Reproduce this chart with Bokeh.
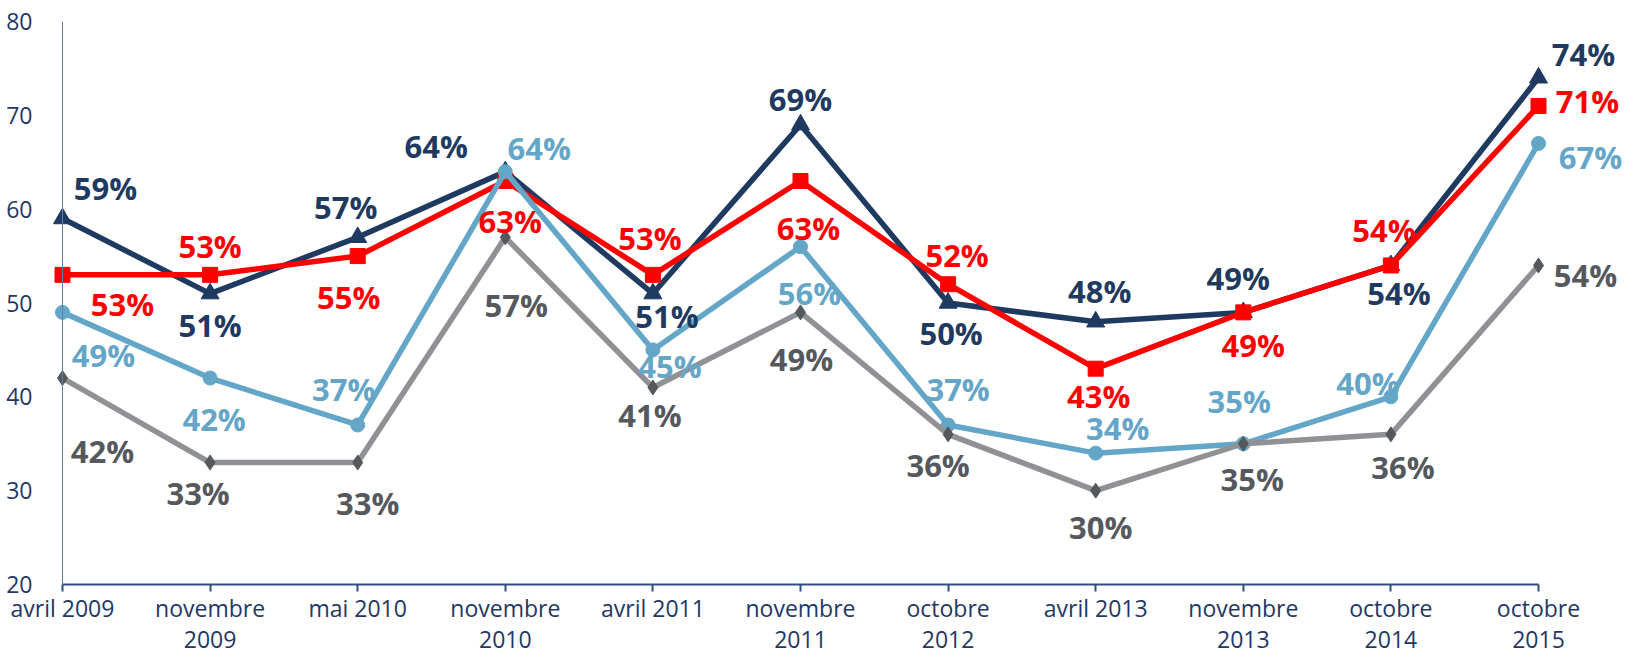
from bokeh.plotting import figure
from bokeh.models import Range1d, FixedTicker, ColumnDataSource, LabelSet
from bokeh.core.properties import value
from bokeh.embed import file_html
from bokeh.resources import INLINE

categories = ["avril 2009", "novembre\n2009", "mai 2010", "novembre\n2010", "avril 2011",
              "novembre\n2011", "octobre\n2012", "avril 2013", "novembre\n2013",
              "octobre\n2014", "octobre\n2015"]
navy_vals = [59, 51, 57, 64, 51, 69, 50, 48, 49, 54, 74]
red_vals = [53, 53, 55, 63, 53, 63, 52, 43, 49, 54, 71]
blue_vals = [49, 42, 37, 64, 45, 56, 37, 34, 35, 40, 67]
gray_vals = [42, 33, 33, 57, 41, 49, 36, 30, 35, 36, 54]
y_ticks = [20, 30, 40, 50, 60, 70, 80]

# label offsets in screen pixels (dx right, dy down)
navy_off = [(43, -31), (0, 31), (-12, -30), (-69, -26), (14, 22), (0, -26), (3, 30), (4, -31), (-5, -34), (8, 28), (45, -24)]
red_off = [(60, 29), (0, -29), (-9, 41), (5, 40), (-3, -37), (8, 47), (9, -29), (3, 27), (10, 33), (-7, -35), (49, -5)]
blue_off = [(41, 43), (4, 41), (-14, -36), (34, -24), (17, 16), (9, 46), (10, -36), (22, -25), (-4, -43), (-23, -14), (52, 14)]
gray_off = [(40, 73), (-12, 30), (10, 40), (11, 68), (-3, 28), (1, 47), (-10, 31), (5, 36), (9, 35), (12, 33), (47, 10)]

W, H = 1630, 654
# horizontal: category 0 at 62 px, category 10 at 1538 px
left_px, right_px = 62, 1538
px_x = (right_px - left_px) / 10
x_start = -left_px / px_x
x_end = x_start + W / px_x
# vertical: value 80 at 21 px from top, value 20 at 584 px
top_px, bot_px = 21, 584
px_y = (bot_px - top_px) / 60
y_end = 80 + top_px / px_y
y_start = y_end - H / px_y

p = figure(width=W, height=H, output_backend="svg", toolbar_location=None,
           x_range=Range1d(x_start, x_end), y_range=Range1d(y_start, y_end),
           min_border_left=0, min_border_right=0, min_border_top=0, min_border_bottom=0,
           outline_line_color=None, background_fill_color="white", border_fill_color="white")

p.xgrid.visible = False
p.ygrid.visible = False

xs = list(range(len(categories)))

xa = p.xaxis[0]
xa.fixed_location = 20
xa.bounds = (0, 10)
xa.ticker = FixedTicker(ticks=xs)
xa.major_label_overrides = {i: c for i, c in enumerate(categories)}
xa.axis_line_color = "#2E4E7E"
xa.axis_line_width = 2
xa.major_tick_line_color = "#2E4E7E"
xa.major_tick_line_width = 2
xa.major_tick_out = 7
xa.major_tick_in = 0
xa.minor_tick_line_color = None
xa.major_label_standoff = 0
xa.major_label_text_font = "Open Sans"
xa.major_label_text_font_size = "23px"
xa.major_label_text_color = "#1F3864"
xa.major_label_text_line_height = 0.97

ya = p.yaxis[0]
ya.fixed_location = 0
ya.bounds = (20, 80)
ya.ticker = FixedTicker(ticks=y_ticks)
ya.axis_line_color = "#5F80AD"
ya.axis_line_width = 1
ya.major_tick_line_color = None
ya.minor_tick_line_color = None
ya.major_label_standoff = 24
ya.major_label_text_font = "Open Sans"
ya.major_label_text_font_size = "23px"
ya.major_label_text_color = "#1F3864"

series = [
    (navy_vals, "#1F3A60", "#1F3A60", "triangle", 18, navy_off, "#1F3A60"),
    (red_vals, "#FF0000", "#FF0000", "square", 15, red_off, "#FF0000"),
    (blue_vals, "#64A6C8", "#64A6C8", "circle", 14, blue_off, "#64A6C8"),
    (gray_vals, "#8F9195", "#55585C", "diamond", 15, gray_off, "#55585C"),
]

for vals, lc, mc, marker, size, offs, tc in series:
    p.line(xs, vals, line_color=lc, line_width=5.5)
    p.scatter(xs, vals, marker=marker, size=size, fill_color=mc, line_color=mc)

for vals, lc, mc, marker, size, offs, tc in series:
    src = ColumnDataSource(dict(
        x=xs, y=vals, txt=[f"{v}%" for v in vals],
        dx=[o[0] for o in offs], dy=[-o[1] for o in offs]))
    p.add_layout(LabelSet(x="x", y="y", text="txt", source=src,
                          x_offset="dx", y_offset="dy",
                          text_align="center", text_baseline="middle",
                          text_font=value("Open Sans"), text_font_style="bold",
                          text_font_size="31px", text_color=tc))

open("out.html", "w").write(file_html(p, INLINE))
